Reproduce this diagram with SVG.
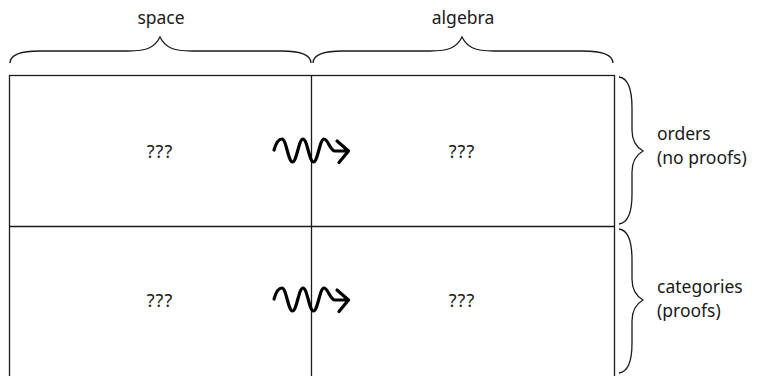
<svg xmlns="http://www.w3.org/2000/svg" width="769" height="376" viewBox="0 0 769 376">
<defs>
<style>
.t{font-family:"Noto Sans","DejaVu Sans",sans-serif;font-size:17.5px;fill:#1a1a1a}
.m{text-anchor:middle}
.q{font-size:18px;letter-spacing:1px}
.grid{fill:none;stroke:#1a1a1a;stroke-width:1.3}
.brace{fill:none;stroke:#1a1a1a;stroke-width:1.3}
use{fill:none;stroke:#000;stroke-width:3.2;stroke-linecap:round;stroke-linejoin:round}
</style>
<path id="squig" d="M274,150 C276,143 279,139 282,139 C286.2,139 288.3,162 292.5,162 C296.7,162 298.8,139 303,139 C307.2,139 309.3,162 313.5,162 C317.7,162 319.8,139 324,139 C328,139 330,151 335,151 L348,151 M337,141 L348.5,151 L339,162.5"/>
</defs>
<rect width="769" height="376" fill="#fff"/>
<g id="grid">
<rect class="grid" x="9.5" y="75.5" width="605" height="305"/>
<line class="grid" x1="311.5" y1="75.5" x2="311.5" y2="380"/>
<line class="grid" x1="9.5" y1="226.5" x2="614.5" y2="226.5"/>
</g>
<g id="cell-space-orders"><text class="t m q" x="160" y="158">???</text></g>
<g id="cell-algebra-orders"><text class="t m q" x="462" y="158">???</text></g>
<g id="cell-space-categories"><text class="t m q" x="160" y="307">???</text></g>
<g id="cell-algebra-categories"><text class="t m q" x="462" y="307">???</text></g>
<g id="brace-space">
<path class="brace" d="M10,63 C10,56 18,51 40,51 L128,51 C148,51 155,47 160,37 C165,47 172,51 192,51 L281,51 C303,51 311,56 311,63"/>
<text class="t m" x="161" y="24">space</text>
</g>
<g id="brace-algebra">
<path class="brace" d="M313,63 C313,56 321,51 343,51 L430,51 C450,51 457,47 462,37 C467,47 474,51 494,51 L582,51 C604,51 613,56 613,63"/>
<text class="t m" x="463" y="24">algebra</text>
</g>
<g id="brace-orders">
<path class="brace" d="M619,77 C627,78 632,88 632,108 L632,130 C632,141 636,147 643,151 C636,155 632,161 632,172 L632,194 C632,214 627,223 619,224"/>
<text class="t" x="657" y="140">orders</text>
<text class="t" x="657" y="164">(no proofs)</text>
</g>
<g id="brace-categories">
<path class="brace" d="M619,229 C627,230 632,240 632,260 L632,279 C632,290 636,296 643,300 C636,304 632,310 632,321 L632,343 C632,363 627,372 619,373"/>
<text class="t" x="657" y="293">categories</text>
<text class="t" x="657" y="317">(proofs)</text>
</g>
<g id="connectors">
<use href="#squig"/>
<use href="#squig" y="149"/>
</g>
</svg>
